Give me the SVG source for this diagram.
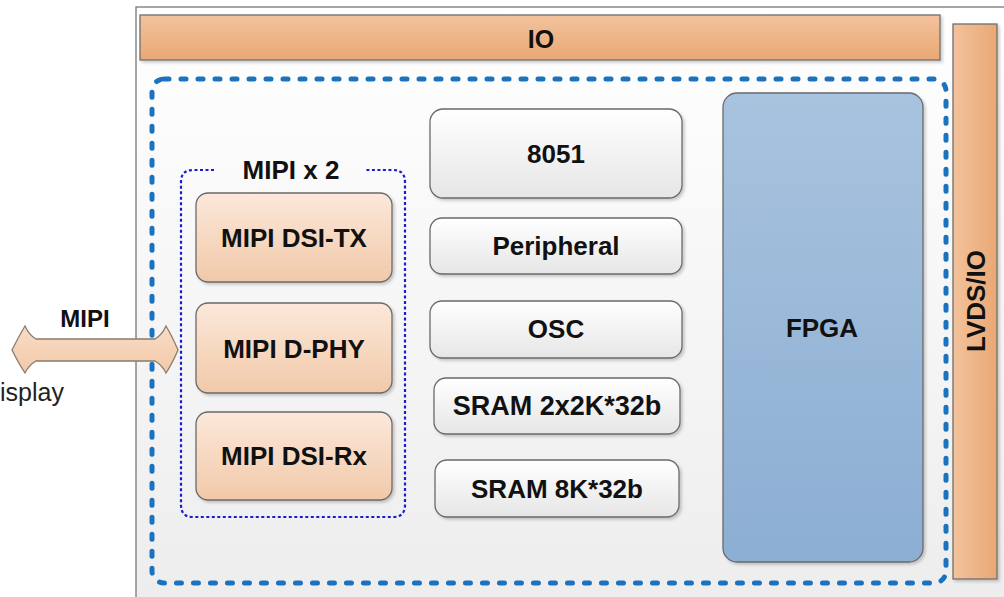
<svg xmlns="http://www.w3.org/2000/svg" width="1004" height="597" viewBox="0 0 1004 597">
<defs>
<linearGradient id="gBg" x1="0" y1="0" x2="0" y2="1"><stop offset="0" stop-color="#ffffff"/><stop offset="1" stop-color="#ededed"/></linearGradient>
<linearGradient id="gOrV" x1="0" y1="0" x2="0" y2="1"><stop offset="0" stop-color="#f3c29c"/><stop offset="1" stop-color="#e9a874"/></linearGradient>
<linearGradient id="gOrH" x1="0" y1="0" x2="1" y2="0"><stop offset="0" stop-color="#f3c29c"/><stop offset="1" stop-color="#e9a874"/></linearGradient>
<linearGradient id="gBlue" x1="0" y1="0" x2="0" y2="1"><stop offset="0" stop-color="#a8c3de"/><stop offset="1" stop-color="#8caed3"/></linearGradient>
<linearGradient id="gPeach" x1="0" y1="0" x2="0" y2="1"><stop offset="0" stop-color="#fce8da"/><stop offset="1" stop-color="#f1c9a9"/></linearGradient>
<linearGradient id="gWhite" x1="0" y1="0" x2="0" y2="1"><stop offset="0" stop-color="#ffffff"/><stop offset="1" stop-color="#e6e6e6"/></linearGradient>
<linearGradient id="gArrow" x1="0" y1="0" x2="0" y2="1"><stop offset="0" stop-color="#f9dcc6"/><stop offset="1" stop-color="#f2c9a8"/></linearGradient>
<filter id="sh" x="-10%" y="-10%" width="130%" height="130%"><feDropShadow dx="2" dy="2" stdDeviation="1.5" flood-color="#000" flood-opacity="0.2"/></filter>
</defs>
<style>
.t{font-family:"Liberation Sans",Arial,sans-serif;font-weight:bold;fill:#111;text-anchor:middle;dominant-baseline:central}
.box{stroke:#6a6a6a;stroke-width:1.3}
.bar{stroke:#6f6f6f;stroke-width:1.3}
</style>
<rect width="1004" height="597" fill="#ffffff"/>
<g id="chip">
<rect x="136" y="7" width="880" height="600" fill="url(#gBg)" stroke="#777" stroke-width="1.3"/>
</g>
<g id="io">
<rect class="bar" x="140" y="15" width="800" height="45" fill="url(#gOrV)" filter="url(#sh)"/>
<text class="t" x="541" y="39" font-size="25">IO</text>
</g>
<g id="lvds">
<rect class="bar" x="953" y="24" width="44" height="555" fill="url(#gOrH)" filter="url(#sh)"/>
<text class="t" x="976" y="301" font-size="26" transform="rotate(-90 976 301)">LVDS/IO</text>
</g>
<g id="core">
<rect x="152" y="79" width="794" height="504" rx="12" fill="none" stroke="#1b72bf" stroke-width="5" stroke-dasharray="5 12" stroke-linecap="round"/>
</g>
<g id="fpga">
<rect class="box" x="723" y="93" width="200" height="469" rx="14" fill="url(#gBlue)" filter="url(#sh)"/>
<text class="t" x="822" y="328" font-size="26">FPGA</text>
</g>
<g id="mipi-group">
<path d="M214,170 L193,170 Q181,170 181,182 L181,505 Q181,517 193,517 L393,517 Q405,517 405,505 L405,182 Q405,170 393,170 L366,170" fill="none" stroke="#1c1cc8" stroke-width="2.2" stroke-dasharray="3 2.5"/>
<text class="t" x="291" y="170" font-size="26">MIPI x 2</text>
</g>
<g id="dsi-tx">
<rect class="box" x="196" y="193" width="196" height="89" rx="12" fill="url(#gPeach)" filter="url(#sh)"/>
<text class="t" x="294" y="238" font-size="26">MIPI DSI-TX</text>
</g>
<g id="dphy">
<rect class="box" x="196" y="303" width="196" height="90" rx="12" fill="url(#gPeach)" filter="url(#sh)"/>
<text class="t" x="294" y="349" font-size="26">MIPI D-PHY</text>
</g>
<g id="dsi-rx">
<rect class="box" x="196" y="412" width="196" height="88" rx="12" fill="url(#gPeach)" filter="url(#sh)"/>
<text class="t" x="294" y="456" font-size="26">MIPI DSI-Rx</text>
</g>
<g id="n8051">
<rect class="box" x="430" y="109" width="252" height="89" rx="13" fill="url(#gWhite)" filter="url(#sh)"/>
<text class="t" x="556" y="154" font-size="26">8051</text>
</g>
<g id="peripheral">
<rect class="box" x="430" y="218" width="252" height="56" rx="12" fill="url(#gWhite)" filter="url(#sh)"/>
<text class="t" x="556" y="246" font-size="26">Peripheral</text>
</g>
<g id="osc">
<rect class="box" x="430" y="301" width="252" height="57" rx="12" fill="url(#gWhite)" filter="url(#sh)"/>
<text class="t" x="556" y="329" font-size="26">OSC</text>
</g>
<g id="sram1">
<rect class="box" x="434" y="378" width="246" height="56" rx="12" fill="url(#gWhite)" filter="url(#sh)"/>
<text class="t" x="557" y="406" font-size="27">SRAM 2x2K*32b</text>
</g>
<g id="sram2">
<rect class="box" x="435" y="460" width="244" height="57" rx="12" fill="url(#gWhite)" filter="url(#sh)"/>
<text class="t" x="557" y="489" font-size="26">SRAM 8K*32b</text>
</g>
<g id="connectors">
<path d="M12,350 Q19,336 25,326 Q29,335 36,339 L155,339 Q162,335 166,326 Q172,336 178,350 Q172,364 166,373 Q162,365 155,361 L36,361 Q29,365 25,373 Q19,364 12,350 Z" fill="url(#gArrow)" stroke="#8b7b6c" stroke-width="1.3"/>
<text class="t" x="85" y="318" font-size="24">MIPI</text>
<text x="0" y="401" font-family="'Liberation Sans',Arial,sans-serif" font-size="25" fill="#222">isplay</text>
</g>
</svg>
